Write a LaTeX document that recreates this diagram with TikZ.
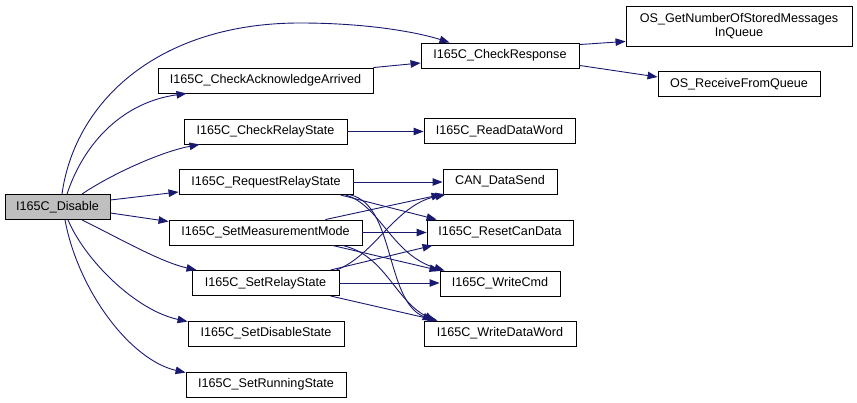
\documentclass[tikz,border=0pt]{standalone}
\usepackage{fontspec}
\setmainfont{Liberation Sans}
\usetikzlibrary{arrows.meta}
\definecolor{edgeblue}{HTML}{191970}
\definecolor{curgray}{HTML}{BFBFBF}
\tikzset{
  fn/.style={draw=black, line width=0.9pt, fill=white, inner sep=0pt, minimum height=25pt,
    font=\fontsize{12.6}{13.5}\selectfont, align=center},
  cur/.style={fn, fill=curgray},
  e/.style={draw=edgeblue, line width=0.9pt, -{Triangle[length=10pt,width=7.5pt]}}
}
\begin{document}
\begin{tikzpicture}[x=1pt,y=-1pt]
\useasboundingbox (0,0) rectangle (857,403);
% nodes
\node[cur, minimum width=105pt] (dis) at (57.5,207) {I165C\_Disable};
\node[fn, minimum width=215pt] (cka) at (265.5,80.5) {I165C\_CheckAcknowledgeArrived};
\node[fn, minimum width=163pt] (crs) at (265.5,131.5) {I165C\_CheckRelayState};
\node[fn, minimum width=174pt] (rrs) at (266,182) {I165C\_RequestRelayState};
\node[fn, minimum width=193pt] (smm) at (265.5,232.5) {I165C\_SetMeasurementMode};
\node[fn, minimum width=147pt] (srs) at (265.5,283) {I165C\_SetRelayState};
\node[fn, minimum width=156pt] (sds) at (266,333.5) {I165C\_SetDisableState};
\node[fn, minimum width=160pt] (sru) at (266,384.5) {I165C\_SetRunningState};
\node[fn, minimum width=158pt] (cr) at (500,55.5) {I165C\_CheckResponse};
\node[fn, minimum width=226pt, minimum height=40pt] (osg) at (739,26) {OS\_GetNumberOfStoredMessages\\InQueue};
\node[fn, minimum width=162pt] (osr) at (739,84) {OS\_ReceiveFromQueue};
\node[fn, minimum width=151pt] (rdw) at (499.5,131) {I165C\_ReadDataWord};
\node[fn, minimum width=114pt] (can) at (500,181.5) {CAN\_DataSend};
\node[fn, minimum width=146pt] (rcd) at (500,232.5) {I165C\_ResetCanData};
\node[fn, minimum width=120pt] (wc) at (500,283.5) {I165C\_WriteCmd};
\node[fn, minimum width=152pt] (wdw) at (500,333.5) {I165C\_WriteDataWord};
% edges from I165C_Disable
\draw[e] ([xshift=4.5pt]dis.north) .. controls (75,100) and (160,23) .. (300,23)
   .. controls (370,23) and (420,33) .. ([xshift=29pt]cr.north west);
\draw[e] ([xshift=9.5pt]dis.north) .. controls (85,140) and (125,102) .. ([xshift=29pt]cka.south west);
\draw[e] ([xshift=24.5pt]dis.north) .. controls (110,175) and (160,152) .. ([xshift=16pt]crs.south west);
\draw[e] ([yshift=7pt]dis.east) -- ([yshift=-10pt]rrs.west);
\draw[e] ([yshift=-6pt]dis.east) -- ([yshift=11pt]smm.west);
\draw[e] ([xshift=24.5pt]dis.south) .. controls (115,236) and (160,262) .. ([xshift=5pt]srs.north west);
\draw[e] ([xshift=10.5pt]dis.south) .. controls (85,260) and (135,310) .. ([yshift=-1pt]sds.north west);
\draw[e] ([xshift=7.5pt]dis.south) .. controls (78,290) and (130,360) .. ([yshift=-1pt]sru.north west);
% other edges
\draw[e] (cka.north east) -- ([yshift=-7.5pt]cr.west);
\draw[e] (crs.east) -- (crs.east -| rdw.west);
\draw[e] ([yshift=-2pt]cr.north east) -- ([yshift=5pt]osg.south west);
\draw[e] ([yshift=3pt]cr.south east) -- ([yshift=7pt]osr.west);
% RequestRelayState
\draw[e] (rrs.east) -- (rrs.east -| can.west);
\draw[e] ([xshift=-13pt]rrs.south east) -- ([xshift=10pt]rcd.north west);
\draw[e] ([xshift=-8pt]rrs.south east) .. controls (380,205) and (392,255) .. ([xshift=5pt]wc.north west);
\draw[e] ([xshift=-3pt]rrs.south east) .. controls (395,205) and (385,300) .. ([xshift=9pt]wdw.north west);
% SetMeasurementMode
\draw[e] ([xshift=-37pt]smm.north east) -- ([xshift=-1pt]can.south west);
\draw[e] (smm.east) -- (smm.east -| rcd.west);
\draw[e] ([xshift=-30pt]smm.south east) -- (wc.north west);
\draw[e] ([xshift=-20pt]smm.south east) .. controls (385,255) and (395,300) .. ([xshift=11pt]wdw.north west);
% SetRelayState
\draw[e] ([xshift=-3pt]srs.north east) .. controls (375,255) and (395,205) .. ([xshift=3pt]can.south west);
\draw[e] ([xshift=-9pt]srs.north east) -- ([xshift=6pt]rcd.south west);
\draw[e] (srs.east) -- (srs.east -| wc.west);
\draw[e] ([xshift=-9pt]srs.south east) -- ([xshift=14pt]wdw.north west);
\end{tikzpicture}
\end{document}
